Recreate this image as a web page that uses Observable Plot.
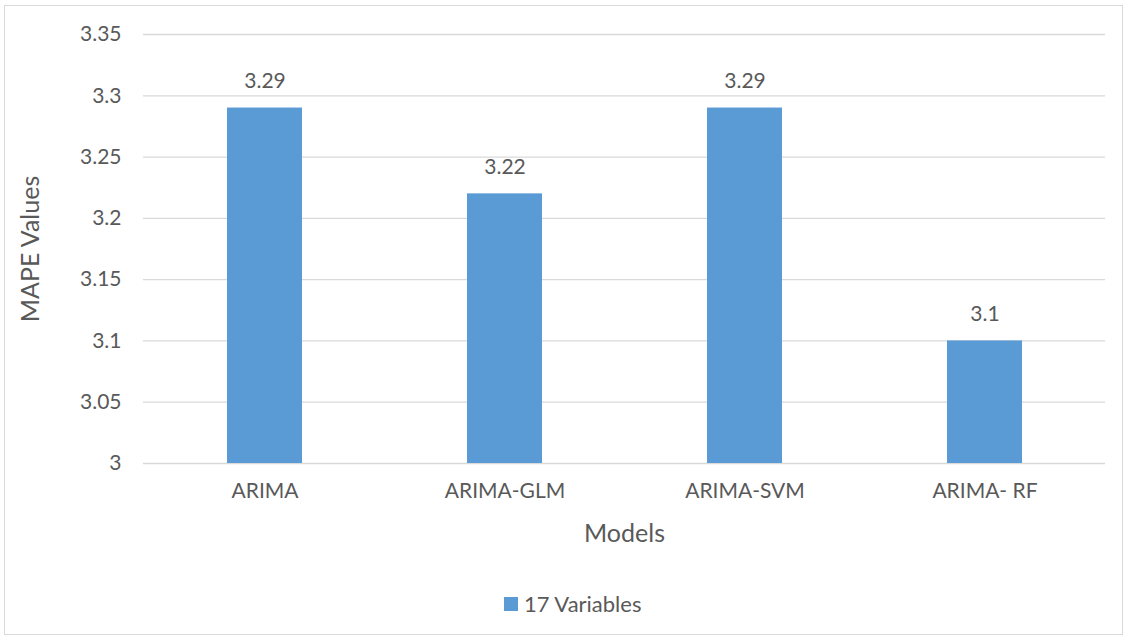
<!DOCTYPE html>
<html>
<head>
<meta charset="utf-8">
<script src="https://cdn.jsdelivr.net/npm/d3@7"></script>
<script src="https://cdn.jsdelivr.net/npm/@observablehq/plot@0.6"></script>
<style>
  html, body { margin: 0; padding: 0; background: #fff; }
  body { width: 1128px; height: 641px; position: relative; overflow: hidden; font-family: Lato, "Open Sans", sans-serif; }
  #frame { position: absolute; left: 4px; top: 5px; width: 1119px; height: 630px; border: 1px solid #d9d9d9; box-sizing: border-box; }
  #chart { position: absolute; left: 0; top: 0; }
  #legend { position: absolute; left: 504px; top: 590px; display: flex; align-items: center; color: #595959; font-size: 22px; }
  #legend .sw { width: 14px; height: 14px; background: #5B9BD5; margin-right: 6px; }
</style>
</head>
<body>
<div id="frame"></div>
<div id="chart"></div>
<div id="legend"><div class="sw"></div><span id="legendText"></span></div>
<script>
const models = ["ARIMA", "ARIMA-GLM", "ARIMA-SVM", "ARIMA- RF"];
const mape = [3.29, 3.22, 3.29, 3.1];
const yTicks = [3, 3.05, 3.1, 3.15, 3.2, 3.25, 3.3, 3.35];
const seriesName = "17 Variables";
const xTitle = "Models";
const yTitle = "MAPE Values";

const data = models.map((m, i) => ({model: m, value: mape[i]}));
const yMin = yTicks[0];
const yMax = yTicks[yTicks.length - 1];
const textColor = "#595959";
const fmt = d => String(+d.toFixed(2));

const chart = Plot.plot({
  width: 1128,
  height: 560,
  marginLeft: 143,
  marginRight: 23,
  marginTop: 34,
  marginBottom: 97,
  style: {fontFamily: "Lato, 'Open Sans', sans-serif", color: textColor, background: "transparent", overflow: "visible"},
  x: {domain: models, paddingInner: 0.688, paddingOuter: 0.344, axis: null},
  y: {domain: [yMin, yMax], axis: null},
  marks: [
    Plot.gridY(yTicks, {stroke: "#d9d9d9", strokeOpacity: 1, strokeWidth: 1.3}),
    Plot.barY(data, {x: "model", y1: () => yMin, y2: "value", fill: "#5B9BD5"}),
    Plot.axisY(yTicks, {tickSize: 0, tickPadding: 22, tickFormat: fmt, fontSize: 21, fill: textColor, label: null}),
    Plot.axisX({tickSize: 0, tickPadding: 20, fontSize: 21, fill: textColor, label: null}),
    Plot.text(data, {x: "model", y: "value", text: d => fmt(d.value), dy: -27, lineAnchor: "middle", fontSize: 21, fill: textColor}),
    Plot.text([xTitle], {frameAnchor: "bottom", dy: 70, lineAnchor: "middle", fontSize: 25, fill: textColor}),
    Plot.text([yTitle], {frameAnchor: "left", rotate: -90, dx: -113, textAnchor: "middle", lineAnchor: "middle", fontSize: 25, fill: textColor})
  ]
});
document.getElementById("chart").appendChild(chart);
document.getElementById("legendText").textContent = seriesName;
</script>
</body>
</html>
